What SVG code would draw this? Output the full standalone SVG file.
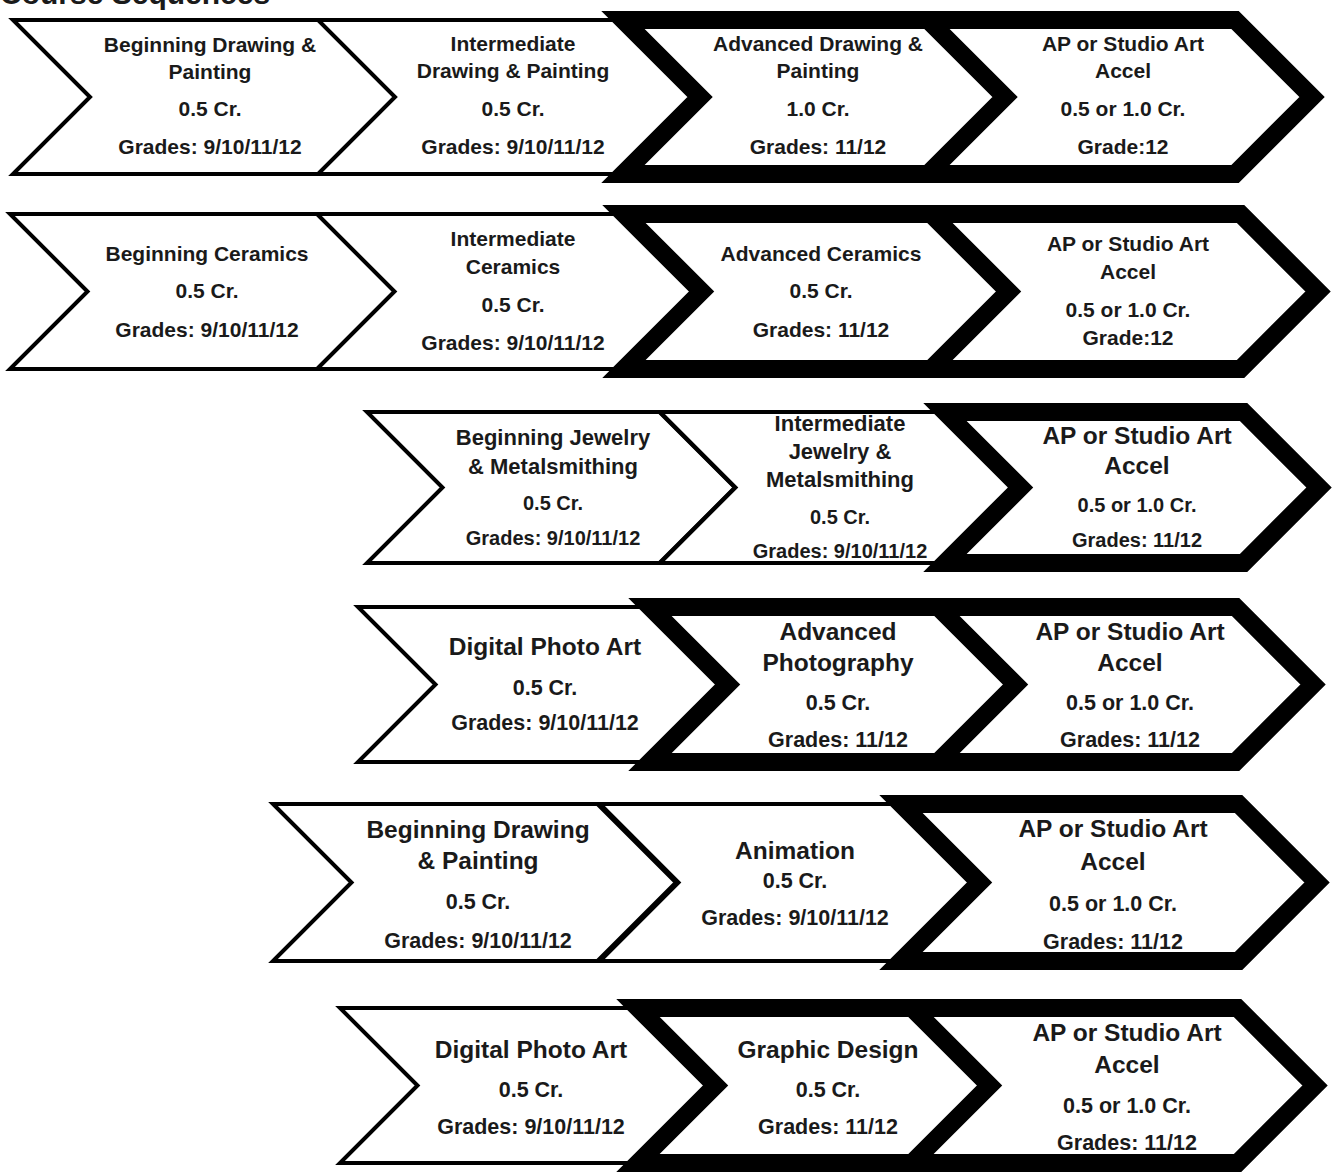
<svg xmlns="http://www.w3.org/2000/svg" width="1335" height="1172" viewBox="0 0 1335 1172">
<style>
.thin{fill:#fff;stroke:#000;stroke-width:4;stroke-linejoin:miter}
.thick{fill:#fff;stroke:#000;stroke-width:18;stroke-linejoin:miter}
text{font-family:"Liberation Sans",Arial,sans-serif;font-weight:bold;fill:#1a1a1a;text-anchor:middle}
.a{font-size:21px}
.b{font-size:22px}
.c{font-size:20px}
.d{font-size:24.5px}
.e{font-size:21.5px}
.title{font-size:30px;text-anchor:start}
</style>
<rect width="1335" height="1172" fill="#fff"/>
<text class="title" x="0" y="4">Course Sequences</text>
<g id="connectors"></g>

<!-- Row 1 -->
<g id="r1c1"><polygon class="thin" points="13,20 320,20 397,97 320,174 13,174 90,97"/>
<text class="a" x="210" y="52">Beginning Drawing &amp;</text><text class="a" x="210" y="79">Painting</text><text class="a" x="210" y="116">0.5 Cr.</text><text class="a" x="210" y="154">Grades: 9/10/11/12</text></g>
<g id="r1c2"><polygon class="thin" points="318,20 625,20 702,97 625,174 318,174 395,97"/>
<text class="a" x="513" y="51">Intermediate</text><text class="a" x="513" y="78">Drawing &amp; Painting</text><text class="a" x="513" y="116">0.5 Cr.</text><text class="a" x="513" y="154">Grades: 9/10/11/12</text></g>
<g id="r1c3"><polygon class="thick" points="623,20 930,20 1007,97 930,174 623,174 700,97"/>
<text class="a" x="818" y="51">Advanced Drawing &amp;</text><text class="a" x="818" y="78">Painting</text><text class="a" x="818" y="116">1.0 Cr.</text><text class="a" x="818" y="154">Grades: 11/12</text></g>
<g id="r1c4"><polygon class="thick" points="928,20 1235,20 1312,97 1235,174 928,174 1005,97"/>
<text class="a" x="1123" y="51">AP or Studio Art</text><text class="a" x="1123" y="78">Accel</text><text class="a" x="1123" y="116">0.5 or 1.0 Cr.</text><text class="a" x="1123" y="154">Grade:12</text></g>

<!-- Row 2 -->
<g id="r2c1"><polygon class="thin" points="10,214 317.5,214 395,291.5 317.5,369 10,369 87.5,291.5"/>
<text class="a" x="207" y="261">Beginning Ceramics</text><text class="a" x="207" y="298">0.5 Cr.</text><text class="a" x="207" y="337">Grades: 9/10/11/12</text></g>
<g id="r2c2"><polygon class="thin" points="317,214 624.5,214 702,291.5 624.5,369 317,369 394.5,291.5"/>
<text class="a" x="513" y="246">Intermediate</text><text class="a" x="513" y="274">Ceramics</text><text class="a" x="513" y="312">0.5 Cr.</text><text class="a" x="513" y="350">Grades: 9/10/11/12</text></g>
<g id="r2c3"><polygon class="thick" points="624,214 932.5,214 1010,291.5 932.5,369 624,369 701.5,291.5"/>
<text class="a" x="821" y="261">Advanced Ceramics</text><text class="a" x="821" y="298">0.5 Cr.</text><text class="a" x="821" y="337">Grades: 11/12</text></g>
<g id="r2c4"><polygon class="thick" points="931,214 1240.5,214 1318,291.5 1240.5,369 931,369 1008.5,291.5"/>
<text class="a" x="1128" y="251">AP or Studio Art</text><text class="a" x="1128" y="279">Accel</text><text class="a" x="1128" y="317">0.5 or 1.0 Cr.</text><text class="a" x="1128" y="345">Grade:12</text></g>

<!-- Row 3 -->
<g id="r3c1"><polygon class="thin" points="367,412 659.5,412 735,487.5 659.5,563 367,563 442.5,487.5"/>
<text class="b" x="553" y="445">Beginning Jewelry</text><text class="b" x="553" y="474">&amp; Metalsmithing</text><text class="c" x="553" y="510">0.5 Cr.</text><text class="c" x="553" y="545">Grades: 9/10/11/12</text></g>
<g id="r3c2"><polygon class="thin" points="660,412 944.5,412 1020,487.5 944.5,563 660,563 735.5,487.5"/>
<text class="b" x="840" y="431">Intermediate</text><text class="b" x="840" y="459">Jewelry &amp;</text><text class="b" x="840" y="487">Metalsmithing</text><text class="c" x="840" y="524">0.5 Cr.</text><text class="c" x="840" y="558">Grades: 9/10/11/12</text></g>
<g id="r3c3"><polygon class="thick" points="945,412 1243.5,412 1319,487.5 1243.5,563 945,563 1020.5,487.5"/>
<text class="d" x="1137" y="444">AP or Studio Art</text><text class="d" x="1137" y="474">Accel</text><text class="c" x="1137" y="512">0.5 or 1.0 Cr.</text><text class="c" x="1137" y="547">Grades: 11/12</text></g>

<!-- Row 4 -->
<g id="r4c1"><polygon class="thin" points="358,607 650.5,607 728,684.5 650.5,762 358,762 435.5,684.5"/>
<text class="d" x="545" y="655">Digital Photo Art</text><text class="e" x="545" y="695">0.5 Cr.</text><text class="e" x="545" y="730">Grades: 9/10/11/12</text></g>
<g id="r4c2"><polygon class="thick" points="650,607 942.5,607 1020,684.5 942.5,762 650,762 727.5,684.5"/>
<text class="d" x="838" y="640">Advanced</text><text class="d" x="838" y="671">Photography</text><text class="e" x="838" y="710">0.5 Cr.</text><text class="e" x="838" y="747">Grades: 11/12</text></g>
<g id="r4c3"><polygon class="thick" points="938,607 1235.5,607 1313,684.5 1235.5,762 938,762 1015.5,684.5"/>
<text class="d" x="1130" y="640">AP or Studio Art</text><text class="d" x="1130" y="671">Accel</text><text class="e" x="1130" y="710">0.5 or 1.0 Cr.</text><text class="e" x="1130" y="747">Grades: 11/12</text></g>

<!-- Row 5 -->
<g id="r5c1"><polygon class="thin" points="273,804 597.5,804 676,882.5 597.5,961 273,961 351.5,882.5"/>
<text class="d" x="478" y="838">Beginning Drawing</text><text class="d" x="478" y="869">&amp; Painting</text><text class="e" x="478" y="909">0.5 Cr.</text><text class="e" x="478" y="948">Grades: 9/10/11/12</text></g>
<g id="r5c2"><polygon class="thin" points="600,804 911.5,804 990,882.5 911.5,961 600,961 678.5,882.5"/>
<text class="d" x="795" y="859">Animation</text><text class="e" x="795" y="888">0.5 Cr.</text><text class="e" x="795" y="925">Grades: 9/10/11/12</text></g>
<g id="r5c3"><polygon class="thick" points="901,804 1238.5,804 1317,882.5 1238.5,961 901,961 979.5,882.5"/>
<text class="d" x="1113" y="837">AP or Studio Art</text><text class="d" x="1113" y="870">Accel</text><text class="e" x="1113" y="911">0.5 or 1.0 Cr.</text><text class="e" x="1113" y="949">Grades: 11/12</text></g>

<!-- Row 6 -->
<g id="r6c1"><polygon class="thin" points="340,1008 637.5,1008 715,1085.5 637.5,1163 340,1163 417.5,1085.5"/>
<text class="d" x="531" y="1058">Digital Photo Art</text><text class="e" x="531" y="1097">0.5 Cr.</text><text class="e" x="531" y="1134">Grades: 9/10/11/12</text></g>
<g id="r6c2"><polygon class="thick" points="638,1008 922.5,1008 1000,1085.5 922.5,1163 638,1163 715.5,1085.5"/>
<text class="d" x="828" y="1058">Graphic Design</text><text class="e" x="828" y="1097">0.5 Cr.</text><text class="e" x="828" y="1134">Grades: 11/12</text></g>
<g id="r6c3"><polygon class="thick" points="912,1008 1237.5,1008 1315,1085.5 1237.5,1163 912,1163 989.5,1085.5"/>
<text class="d" x="1127" y="1041">AP or Studio Art</text><text class="d" x="1127" y="1073">Accel</text><text class="e" x="1127" y="1113">0.5 or 1.0 Cr.</text><text class="e" x="1127" y="1150">Grades: 11/12</text></g>
</svg>
